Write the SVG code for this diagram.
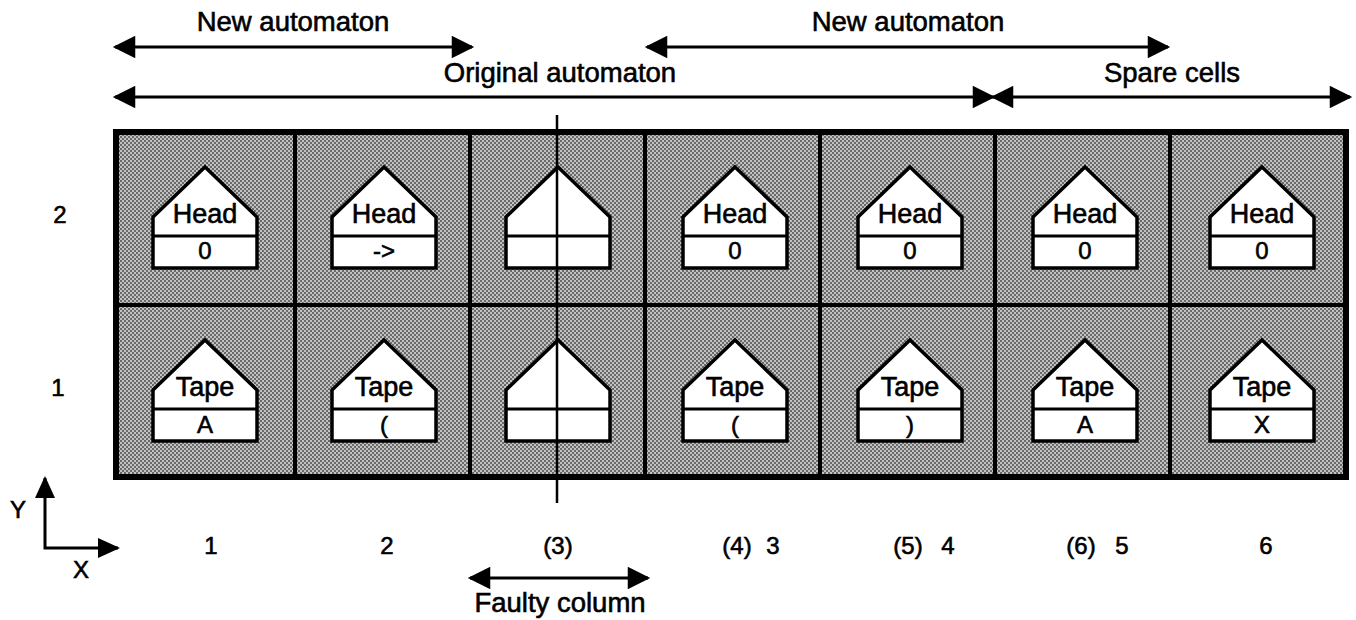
<svg xmlns="http://www.w3.org/2000/svg" width="1356" height="620" viewBox="0 0 1356 620">
<defs>
<pattern id="dots" width="4" height="4" patternUnits="userSpaceOnUse">
<rect width="4" height="4" fill="#c2c2c2"/>
<rect width="2" height="2" fill="#6a6a6a"/>
<rect x="2" y="2" width="2" height="2" fill="#6a6a6a"/>
</pattern>
<marker id="ah" viewBox="0 0 10 10" refX="9" refY="5" markerWidth="8" markerHeight="7.5" markerUnits="strokeWidth" orient="auto-start-reverse">
<path d="M0,0 L10,5 L0,10 z" fill="#000"/>
</marker>
<g id="house">
<polygon points="0,0 52,50 52,101 -52,101 -52,50" class="house"/>
<line x1="-53" y1="69" x2="53" y2="69" class="div"/>
</g>
</defs>
<style>
text{font-family:"Liberation Sans",Arial,sans-serif;fill:#000;stroke:#000;stroke-width:0.6}
.house{fill:#fff;stroke:#000;stroke-width:3.5;stroke-linejoin:miter}
.div{stroke:#000;stroke-width:3}
.lbl{font-size:27px;text-anchor:middle}
.val{font-size:24px;text-anchor:middle}
.big{font-size:27.5px;text-anchor:middle}
.num{font-size:24px;text-anchor:middle}
.arr{stroke:#000;stroke-width:3;fill:none;marker-start:url(#ah);marker-end:url(#ah)}
</style>
<rect width="1356" height="620" fill="#fff"/>

<g id="grid">
<rect x="116" y="132" width="1230" height="345" fill="url(#dots)" stroke="#000" stroke-width="6"/>
<g stroke="#000" stroke-width="4">
<line x1="295" y1="132" x2="295" y2="477"/>
<line x1="470" y1="132" x2="470" y2="477"/>
<line x1="645" y1="132" x2="645" y2="477"/>
<line x1="820" y1="132" x2="820" y2="477"/>
<line x1="995" y1="132" x2="995" y2="477"/>
<line x1="1170" y1="132" x2="1170" y2="477"/>
<line x1="116" y1="305" x2="1346" y2="305"/>
</g>
</g>

<g id="head1"><use href="#house" x="205" y="167"/><text class="lbl" x="205" y="223">Head</text><text class="val" x="205" y="259">0</text></g>
<g id="head2"><use href="#house" x="384" y="167"/><text class="lbl" x="384" y="223">Head</text><text class="val" x="384" y="259">-&gt;</text></g>
<g id="head3"><use href="#house" x="558" y="167"/></g>
<g id="head4"><use href="#house" x="735" y="167"/><text class="lbl" x="735" y="223">Head</text><text class="val" x="735" y="259">0</text></g>
<g id="head5"><use href="#house" x="910" y="167"/><text class="lbl" x="910" y="223">Head</text><text class="val" x="910" y="259">0</text></g>
<g id="head6"><use href="#house" x="1085" y="167"/><text class="lbl" x="1085" y="223">Head</text><text class="val" x="1085" y="259">0</text></g>
<g id="head7"><use href="#house" x="1262" y="167"/><text class="lbl" x="1262" y="223">Head</text><text class="val" x="1262" y="259">0</text></g>

<g id="tape1"><use href="#house" x="205" y="340"/><text class="lbl" x="205" y="396">Tape</text><text class="val" x="205" y="433">A</text></g>
<g id="tape2"><use href="#house" x="384" y="340"/><text class="lbl" x="384" y="396">Tape</text><text class="val" x="384" y="433">(</text></g>
<g id="tape3"><use href="#house" x="558" y="340"/></g>
<g id="tape4"><use href="#house" x="735" y="340"/><text class="lbl" x="735" y="396">Tape</text><text class="val" x="735" y="433">(</text></g>
<g id="tape5"><use href="#house" x="910" y="340"/><text class="lbl" x="910" y="396">Tape</text><text class="val" x="910" y="433">)</text></g>
<g id="tape6"><use href="#house" x="1085" y="340"/><text class="lbl" x="1085" y="396">Tape</text><text class="val" x="1085" y="433">A</text></g>
<g id="tape7"><use href="#house" x="1262" y="340"/><text class="lbl" x="1262" y="396">Tape</text><text class="val" x="1262" y="433">X</text></g>

<g id="connectors">
<line class="arr" x1="115" y1="47" x2="472" y2="47"/>
<line class="arr" x1="647" y1="47" x2="1168" y2="47"/>
<line class="arr" x1="115" y1="97" x2="993" y2="97"/>
<line class="arr" x1="993" y1="97" x2="1350" y2="97"/>
<line class="arr" x1="470" y1="578" x2="648" y2="578"/>
<line x1="557" y1="115" x2="557" y2="503" stroke="#000" stroke-width="2.5"/>
<polyline points="45,478 45,548 118,548" fill="none" stroke="#000" stroke-width="3"/>
<polygon points="45,476 35,498 55,498" fill="#000"/>
<polygon points="120,548 98,538 98,558" fill="#000"/>
</g>

<g id="labels">
<text class="big" x="293" y="31">New automaton</text>
<text class="big" x="908" y="31">New automaton</text>
<text class="big" x="560" y="82">Original automaton</text>
<text class="big" x="1172" y="82">Spare cells</text>
<text class="big" x="560" y="612">Faulty column</text>
<text class="num" x="60" y="223">2</text>
<text class="num" x="58" y="396">1</text>
<text class="num" x="18" y="518">Y</text>
<text class="num" x="81" y="578">X</text>
<text class="num" x="211" y="554">1</text>
<text class="num" x="387" y="554">2</text>
<text class="num" x="558" y="554">(3)</text>
<text class="num" x="737" y="554">(4)</text><text class="num" x="773" y="554">3</text>
<text class="num" x="908" y="554">(5)</text><text class="num" x="948" y="554">4</text>
<text class="num" x="1081" y="554">(6)</text><text class="num" x="1122" y="554">5</text>
<text class="num" x="1266" y="554">6</text>
</g>
</svg>
